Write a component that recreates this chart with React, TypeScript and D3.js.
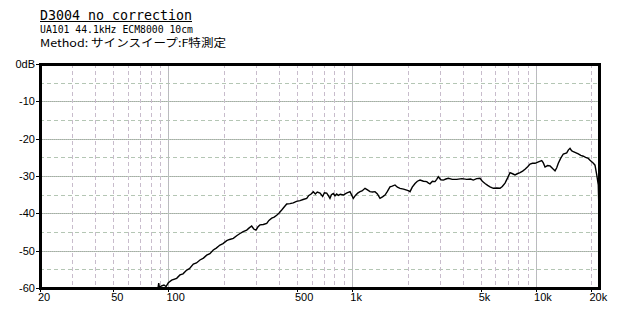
import React from "react";
import * as d3 from "d3";

const titleText = "D3004 no correction";
const subText = "UA101 44.1kHz ECM8000 10cm";
const methodText = "Method: サインスイープ:F特測定";

const yTickValues = [0, -10, -20, -30, -40, -50, -60];
const yTickLabels = ["0dB", "-10", "-20", "-30", "-40", "-50", "-60"];
const yMinorValues = [-5, -15, -25, -35, -45, -55];
const xTickValues = [20, 50, 100, 500, 1000, 5000, 10000, 20000];
const xTickLabels = ["20", "50", "100", "500", "1k", "5k", "10k", "20k"];
const xMajorGrid = [100, 1000, 10000];
const xMinorGrid = [30, 40, 50, 60, 70, 80, 90, 200, 300, 400, 500, 600, 700, 800, 900, 2000, 3000, 4000, 5000, 6000, 7000, 8000, 9000, 20000];

const freqs = [87.7, 88.5, 89.4, 91.1, 94.5, 97, 99.8, 104.1, 110.8, 115.5, 120, 125.7, 130, 136.5, 142, 148.4, 155, 161.4, 168, 175.3, 182, 190.7, 198, 207.4, 215, 225.4, 235, 245, 255, 266.5, 275, 283.6, 291, 299.4, 307, 314.8, 328, 342.4, 352, 364.6, 376, 388, 400, 413.1, 426, 439.8, 458, 477.6, 497, 519.6, 540, 565, 580, 595, 613.8, 630, 645, 667.6, 690, 705, 725.6, 740, 756, 770, 788.6, 805, 823, 840, 860, 893.8, 930, 972, 990, 1013, 1040, 1070, 1102, 1130, 1173, 1210, 1249, 1290, 1329, 1370, 1415, 1460, 1507, 1550, 1604, 1650, 1708, 1760, 1819, 1900, 1978, 2030, 2062, 2120, 2195, 2260, 2337, 2440, 2540, 2600, 2648, 2730, 2819, 2880, 2938, 3030, 3128, 3230, 3330, 3500, 3700, 3950, 4194, 4400, 4556, 4750, 4954, 5100, 5275, 5450, 5616, 5854, 6100, 6366, 6550, 6777, 7000, 7214, 7450, 7680, 7900, 8177, 8450, 8705, 9000, 9268, 9560, 9867, 10300, 10732, 10950, 11186, 11550, 11909, 12300, 12679, 12950, 13212, 13600, 14066, 14678, 15000, 15298, 15600, 15944, 16974, 17500, 18072, 18600, 19240, 19650, 20074, 20500, 20920, 21380, 21800, 22000];
const levels = [-60, -58.7, -60, -59.5, -59.2, -59.6, -58.6, -57.9, -57.4, -56.5, -56.2, -55.2, -54.8, -53.6, -53.3, -52.5, -52, -51.2, -50.8, -49.8, -49.3, -48.5, -48.1, -47.3, -47.0, -46.7, -46.0, -45.4, -44.9, -44.5, -43.9, -43.4, -44.2, -44.5, -43.6, -43.1, -43.0, -42.7, -41.9, -41.3, -41.0, -40.5, -39.9, -39.1, -38.3, -37.5, -37.4, -37.2, -36.8, -36.6, -36.3, -36.0, -35.2, -34.9, -34.2, -34.8, -34.3, -34.6, -35.5, -34.5, -34.6, -35.2, -36.0, -35.0, -34.7, -35.3, -34.8, -35.2, -34.9, -35.1, -34.6, -34.2, -35.0, -36.0, -35.2, -34.6, -34.2, -34.0, -33.3, -33.7, -34.2, -34.3, -34.2, -34.8, -36.0, -35.6, -35.1, -34.2, -32.9, -32.7, -32.4, -33.0, -33.3, -33.5, -33.8, -34.0, -34.2, -33.0, -32.0, -31.4, -31.1, -31.4, -31.5, -31.9, -32.1, -31.4, -31.5, -30.9, -30.2, -31.0, -31.1, -30.8, -30.6, -30.9, -30.9, -30.7, -30.9, -30.8, -31.1, -30.7, -30.6, -31.4, -32.0, -32.5, -32.9, -33.3, -33.2, -33.3, -32.8, -31.9, -30.5, -29.1, -29.4, -29.7, -29.4, -29.1, -28.7, -28.2, -27.5, -26.8, -26.6, -26.6, -26.2, -25.9, -26.5, -27.6, -27.2, -27.3, -28.0, -28.6, -27.8, -26.6, -25.3, -24.1, -23.8, -23.0, -22.6, -23.2, -23.5, -24.1, -24.5, -24.7, -25.0, -25.3, -25.8, -26.2, -26.6, -27.1, -29.7, -32.4, -40.0];

const W = 640;
const H = 320;
const LEFT = 40;
const RIGHT = 599.2;
const TOP = 64;
const BOTTOM = 288;

export default function App() {
  const x = d3.scaleLog().domain([20, 22050]).range([LEFT, RIGHT]);
  const y = d3.scaleLinear().domain([0, -60]).range([TOP, BOTTOM]);
  const pts: [number, number][] = freqs.map((f, i) => [f, levels[i]]);
  const line = d3
    .line<[number, number]>()
    .x((d) => x(d[0]))
    .y((d) => y(d[1]));
  const mono = "'DejaVu Sans Mono', 'Liberation Mono', 'Noto Sans CJK JP', monospace";
  const labelFont = "'Liberation Sans', 'DejaVu Sans', sans-serif";
  return (
    <svg
      width={W}
      height={H}
      style={{ position: "absolute", left: 0, top: 0, background: "#fff" }}
      shapeRendering="crispEdges"
    >
      <rect x={0} y={0} width={W} height={H} fill="#fff" />
      <text x={40} y={19.5} fontFamily={mono} fontSize={14} textLength={152} lengthAdjust="spacingAndGlyphs" fill="#000">
        {titleText}
      </text>
      <line x1={40} x2={192} y1={21.5} y2={21.5} stroke="#000" strokeWidth={1} />
      <text x={40} y={33} fontFamily={mono} fontSize={10} textLength={153} lengthAdjust="spacingAndGlyphs" fill="#000">
        {subText}
      </text>
      <text x={40} y={46.5} fontFamily="'Noto Sans CJK JP', 'DejaVu Sans Mono', monospace" fontSize={11} textLength={186} lengthAdjust="spacingAndGlyphs" fill="#000">
        {methodText}
      </text>

      {yMinorValues.map((v) => (
        <line key={"ym" + v} x1={LEFT} x2={RIGHT} y1={Math.round(y(v)) + 0.5} y2={Math.round(y(v)) + 0.5} stroke="#b4c6b4" strokeDasharray="4,3" />
      ))}
      {yTickValues.slice(1, -1).map((v) => (
        <g key={"yM" + v}>
          <line x1={LEFT} x2={RIGHT} y1={Math.round(y(v)) + 0.5} y2={Math.round(y(v)) + 0.5} stroke="#b4c8b4" />
          <line x1={LEFT} x2={RIGHT} y1={Math.round(y(v)) + 0.5} y2={Math.round(y(v)) + 0.5} stroke="#a8a8a8" strokeDasharray="1,1" />
        </g>
      ))}
      {xMinorGrid.map((f) => (
        <line key={"xm" + f} x1={Math.round(x(f)) + 0.5} x2={Math.round(x(f)) + 0.5} y1={TOP} y2={BOTTOM} stroke="#c8bccc" strokeDasharray="4,3" />
      ))}
      {xMajorGrid.map((f) => (
        <g key={"xM" + f}>
          <line x1={Math.round(x(f)) + 0.5} x2={Math.round(x(f)) + 0.5} y1={TOP} y2={BOTTOM} stroke="#b4c8b4" />
          <line x1={Math.round(x(f)) + 0.5} x2={Math.round(x(f)) + 0.5} y1={TOP} y2={BOTTOM} stroke="#c0b0c8" strokeDasharray="1,1" />
        </g>
      ))}

      <path d={line(pts) || ""} fill="none" stroke="#000" strokeWidth={1.4} shapeRendering="auto" />

      <rect x={LEFT} y={TOP} width={RIGHT - LEFT} height={BOTTOM - TOP} fill="none" stroke="#000" strokeWidth={3} />

      {yTickValues.map((v, i) => (
        <g key={"yt" + v}>
          <line x1={LEFT - 4} x2={LEFT} y1={Math.round(y(v)) + 0.5} y2={Math.round(y(v)) + 0.5} stroke="#000" />
          <text x={35} y={y(v) + 4} textAnchor="end" fontFamily={labelFont} fontSize={11} fill="#000">
            {yTickLabels[i]}
          </text>
        </g>
      ))}
      {xTickValues.map((f, i) => (
        <g key={"xt" + f}>
          <line x1={Math.round(x(f)) + 0.5} x2={Math.round(x(f)) + 0.5} y1={BOTTOM} y2={BOTTOM + 4} stroke="#000" />
          <text x={x(f) - 2} y={301} textAnchor="start" fontFamily={labelFont} fontSize={11} fill="#000">
            {xTickLabels[i]}
          </text>
        </g>
      ))}
    </svg>
  );
}
